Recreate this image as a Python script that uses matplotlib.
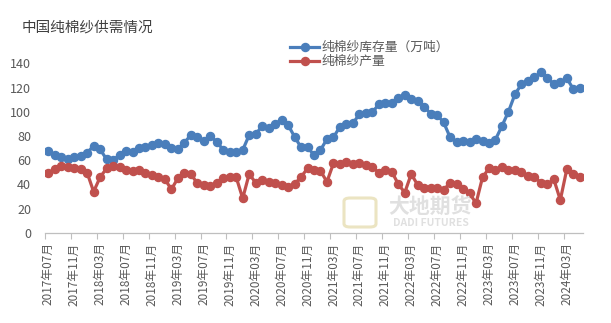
import matplotlib
matplotlib.use("Agg")
import matplotlib.pyplot as plt
from matplotlib.patches import FancyBboxPatch

plt.rcParams["font.family"] = ["Noto Sans CJK SC", "DejaVu Sans"]

BLUE = "#4A7EBB"
RED = "#C0504D"
GREY = "#595959"

# monthly, 2017-07 .. 2024-05
start_year, start_month = 2017, 7
n_months = 83

inventory = [
    67.5, 64.2, 62.3, 60.7, 62.3, 63.4, 66.1, 71.7, 68.9, 60.7,
    60.1, 64.2, 67.8, 66.9, 69.7, 71.1, 72.5, 73.9, 73.3, 69.7,
    69.2, 74.4, 80.7, 79.3, 76.0, 79.9, 75.2, 68.3, 66.9, 66.9,
    68.3, 80.7, 81.3, 88.2, 86.3, 89.8, 93.5, 89.0, 79.3, 70.6,
    70.6, 64.2, 68.3, 77.4, 78.8, 87.6, 89.6, 90.4, 97.9, 98.7,
    99.5, 106.1, 107.4, 106.9, 111.6, 113.8, 110.2, 109.1, 104.1, 98.4,
    97.2, 91.2, 78.8, 75.2, 75.8, 75.2, 77.2, 76.0, 73.9, 77.0,
    88.2, 100.0, 114.4, 122.6, 125.6, 128.4, 132.5, 128.1, 122.9, 124.3,
    127.6, 118.8, 119.8,
]

output = [
    49.1, 52.4, 55.1, 54.0, 53.2, 52.4, 49.6, 33.9, 45.8, 53.2,
    55.4, 54.5, 51.8, 51.0, 51.8, 49.6, 47.7, 45.8, 44.1, 35.9,
    45.0, 49.6, 48.5, 40.8, 39.4, 38.6, 41.3, 45.0, 45.8, 45.8,
    28.4, 48.5, 41.3, 43.6, 42.1, 40.8, 39.4, 38.0, 40.2, 46.0,
    53.2, 51.8, 51.0, 42.1, 57.3, 56.5, 58.7, 56.8, 57.9, 56.0,
    54.5, 49.6, 51.8, 50.4, 40.2, 33.1, 48.5, 39.4, 37.2, 36.9,
    36.7, 35.3, 41.3, 40.0, 35.9, 32.6, 24.3, 45.8, 53.2, 51.8,
    54.5, 51.8, 51.8, 49.9, 46.9, 46.3, 41.3, 40.0, 44.1, 27.0,
    52.4, 48.5, 46.3,
]

months = []
for k in range(n_months):
    m = start_month - 1 + k
    months.append(f"{start_year + m // 12}年{m % 12 + 1:02d}月")

x = list(range(n_months))

fig = plt.figure(figsize=(6.11, 3.23), dpi=100, facecolor="white")
ax = fig.add_axes([45 / 611, 1 - 232.7 / 323, (583 - 45) / 611, (232.7 - 63.3) / 323])

ax.plot(x, inventory, color=BLUE, lw=2.3, marker="o", ms=5.8,
        label="纯棉纱库存量（万吨）", zorder=3)
ax.plot(x, output, color=RED, lw=2.3, marker="o", ms=5.8,
        label="纯棉纱产量", zorder=3)

ax.set_xlim(-0.5, n_months - 0.5)
ax.set_ylim(0, 140)
ax.set_yticks(range(0, 141, 20))

ax.set_xticks(x[::4])
ax.set_xticklabels(months[::4], rotation=90, fontsize=8.5, color=GREY)
ax.set_xticks([i - 0.5 for i in range(0, n_months, 4)], minor=True)
ax.tick_params(axis="x", which="major", length=0, pad=7)
ax.tick_params(axis="x", which="minor", length=4, color="#BFBFBF", width=0.8)
ax.tick_params(axis="y", length=0, pad=10, labelsize=9, labelcolor=GREY)

for side in ("top", "right", "left"):
    ax.spines[side].set_visible(False)
ax.spines["bottom"].set_color("#BFBFBF")
ax.spines["bottom"].set_linewidth(0.9)

leg = ax.legend(loc="upper left", bbox_to_anchor=(290 / 611, 1 - 41 / 323),
                bbox_transform=fig.transFigure, frameon=False, fontsize=9.2,
                handlelength=2.3, handletextpad=0.2, labelspacing=0.1,
                borderaxespad=0, borderpad=0)
for t in leg.get_texts():
    t.set_color(GREY)

fig.text(22 / 611, 1 - 28 / 323, "中国纯棉纱供需情况", fontsize=10.5,
         color="#404040", ha="left", va="center")

# faint watermark
logo = FancyBboxPatch((344 / 611, 1 - 227 / 323), 32 / 611, 29 / 323,
                      boxstyle="round,pad=0,rounding_size=0.01",
                      transform=fig.transFigure, fill=False,
                      ec="#E3D9A8", lw=2.2, alpha=0.7, zorder=0)
fig.patches.append(logo)
fig.text(430 / 611, 1 - 206 / 323, "大地期货", fontsize=15, color="#E0E0E0",
         ha="center", va="center", fontweight="bold", zorder=0)
fig.text(431 / 611, 1 - 223 / 323, "DADI FUTURES", fontsize=7.5,
         color="#E0E0E0", ha="center", va="center", fontweight="bold", zorder=0)

fig.savefig("out.png", dpi=100, facecolor="white")
